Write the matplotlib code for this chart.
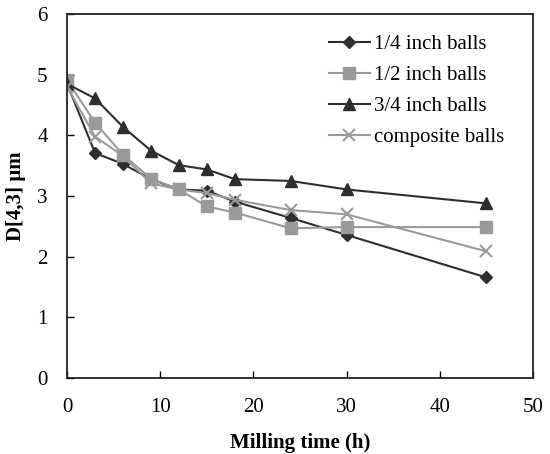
import numpy as np
import matplotlib
matplotlib.use('Agg')
import matplotlib.pyplot as plt

plt.rcParams['font.family'] = 'Liberation Serif'
plt.rcParams['font.size'] = 15

# milling time (h)
hours = [0, 3, 6, 9, 12, 15, 18, 24, 30, 45]

# D[4,3] in um
quarter_inch = [4.85, 3.71, 3.53, 3.28, 3.11, 3.09, 2.91, 2.64, 2.36, 1.66]
half_inch = [4.91, 4.21, 3.68, 3.29, 3.11, 2.83, 2.73, 2.47, 2.49, 2.49]
three_quarter_inch = [4.85, 4.61, 4.14, 3.75, 3.51, 3.44, 3.28, 3.25, 3.11, 2.88]
composite = [4.80, 3.98, 3.66, 3.21, 3.11, 3.05, 2.94, 2.77, 2.70, 2.09]

dark = '#2e2e2e'
light = '#9a9a9a'

fig = plt.figure(figsize=(5.5, 4.54), dpi=100)
ax = fig.add_axes([0.122, 0.167, 0.847, 0.802])

ax.plot(hours, quarter_inch, color=dark, marker='D', markersize=6.5, linewidth=1.5,
        label='1/4 inch balls')
ax.plot(hours, half_inch, color=light, marker='s', markersize=8.5, linewidth=1.5,
        label='1/2 inch balls')
ax.plot(hours, three_quarter_inch, color=dark, marker='^', markersize=9, linewidth=1.5,
        label='3/4 inch balls')
ax.plot(hours, composite, color=light, marker='x', markersize=8, markeredgewidth=1.5,
        linewidth=1.5, label='composite balls')

ax.set_xlim(0, 50)
ax.set_ylim(0, 6)
ax.set_xticks(np.arange(0, 51, 10))
ax.set_yticks(np.arange(0, 7, 1))
ax.tick_params(direction='in', length=5, width=1, labelsize=15)
ax.tick_params(axis='y', pad=14)
ax.tick_params(axis='x', pad=14)
for s in ax.spines.values():
    s.set_linewidth(1.3)
    s.set_color('#222222')

ax.set_xlabel('Milling time (h)', fontweight='bold', fontsize=15, labelpad=12)
ax.set_ylabel('D[4,3] µm', fontweight='bold', fontsize=15, labelpad=8)

ax.legend(loc='upper right', frameon=False, fontsize=15, handlelength=2.0,
          handletextpad=0.2, labelspacing=0.55, borderaxespad=0.0,
          bbox_to_anchor=(0.957, 0.966))

fig.savefig('out.png', dpi=100)
